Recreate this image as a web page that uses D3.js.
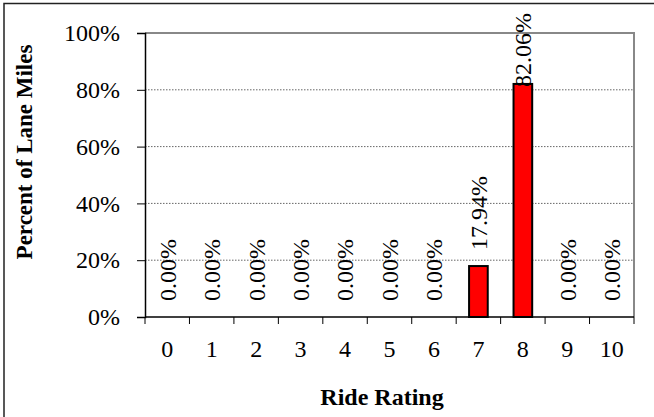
<!DOCTYPE html>
<html>
<head>
<meta charset="utf-8">
<script src="https://cdn.jsdelivr.net/npm/d3@7/dist/d3.min.js"></script>
<style>
  html, body { margin: 0; padding: 0; background: #fff; }
  svg { display: block; }
  text { font-family: "Liberation Serif", "Times New Roman", serif; fill: #000; }
</style>
</head>
<body>
<svg id="chart" width="654" height="417"></svg>
<script>
// ---- data ----
const categories = ["0", "1", "2", "3", "4", "5", "6", "7", "8", "9", "10"];
const values = [0, 0, 0, 0, 0, 0, 0, 17.94, 82.06, 0, 0];
const yTicks = [0, 20, 40, 60, 80, 100];
const xTitle = "Ride Rating";
const yTitle = "Percent of Lane Miles";

const svg = d3.select("#chart");
const W = 654, H = 417;
const plot = { left: 145, right: 634, top: 33, bottom: 317 };

// outer chart frame (cut off at right and bottom)
svg.append("rect")
  .attr("x", 4).attr("y", 3.5)
  .attr("width", W + 10).attr("height", H + 10)
  .attr("fill", "#fff").attr("stroke", "#222").attr("stroke-width", 1.5);

const x = d3.scaleBand().domain(categories).range([plot.left, plot.right]).padding(0);
const y = d3.scaleLinear().domain([0, 100]).range([plot.bottom, plot.top]);

// gridlines
svg.append("g").selectAll("line")
  .data(yTicks.filter(d => d > 0 && d < 100))
  .join("line")
  .attr("x1", plot.left).attr("x2", plot.right)
  .attr("y1", d => y(d)).attr("y2", d => y(d))
  .attr("stroke", "#666").attr("stroke-width", 1)
  .attr("stroke-dasharray", "1.5,1.5");

// plot border top & right (gray)
svg.append("path")
  .attr("d", `M${plot.left},${y(100)}H${plot.right}V${plot.bottom}`)
  .attr("fill", "none").attr("stroke", "#888").attr("stroke-width", 2);

// bars
const barW = x.bandwidth() * 0.42;
svg.append("g").selectAll("rect")
  .data(values)
  .join("rect")
  .attr("x", (d, i) => x(categories[i]) + x.bandwidth() / 2 - barW / 2)
  .attr("y", d => y(d))
  .attr("width", barW)
  .attr("height", d => y(0) - y(d))
  .attr("fill", "#ff0000")
  .attr("stroke", d => d > 0 ? "#000" : "none")
  .attr("stroke-width", 2);

// y axis
const yAxis = svg.append("g")
  .attr("transform", `translate(${plot.left},0)`)
  .call(d3.axisLeft(y).tickValues(yTicks).tickFormat(d => d + "%").tickSize(8).tickPadding(17));
yAxis.select(".domain").attr("stroke", "#000").attr("stroke-width", 1.5);
yAxis.selectAll(".tick line").attr("stroke", "#000").attr("stroke-width", 1);
yAxis.selectAll("text").attr("font-size", 24)
  .style("font-family", '"Liberation Serif", "Times New Roman", serif');

// x axis (ticks at band boundaries)
const xAxisG = svg.append("g").attr("transform", `translate(0,${plot.bottom})`);
xAxisG.append("line")
  .attr("x1", plot.left).attr("x2", plot.right)
  .attr("stroke", "#000").attr("stroke-width", 1.5);
const boundaries = categories.map(c => x(c)).concat([plot.right]);
xAxisG.selectAll(".xt").data(boundaries).join("line")
  .attr("class", "xt")
  .attr("x1", d => d).attr("x2", d => d)
  .attr("y1", 0).attr("y2", 7)
  .attr("stroke", "#000").attr("stroke-width", 1);
xAxisG.selectAll(".xl").data(categories).join("text")
  .attr("class", "xl")
  .attr("x", d => x(d) + x.bandwidth() / 2)
  .attr("y", 40)
  .attr("text-anchor", "middle")
  .attr("font-size", 24)
  .text(d => d);

// data labels (rotated)
const labels = svg.append("g").selectAll("text")
  .data(values)
  .join("text")
  .attr("font-size", 24)
  .attr("dy", "0.35em")
  .text(d => d.toFixed(2) + "%");
labels.each(function (d, i) {
  const len = this.getComputedTextLength();
  const cx = x(categories[i]) + x.bandwidth() / 2;
  let startY = y(d) - 16;
  const minStart = 13 + len;
  if (startY < minStart) startY = minStart;
  d3.select(this).attr("transform", `translate(${cx},${startY}) rotate(-90)`);
});

// axis titles
svg.append("text")
  .attr("x", 382).attr("y", 405)
  .attr("text-anchor", "middle")
  .attr("font-size", 24).attr("font-weight", "bold")
  .text(xTitle);

svg.append("text")
  .attr("transform", `translate(32,152) rotate(-90)`)
  .attr("text-anchor", "middle")
  .attr("font-size", 23).attr("font-weight", "bold")
  .text(yTitle);
</script>
</body>
</html>
